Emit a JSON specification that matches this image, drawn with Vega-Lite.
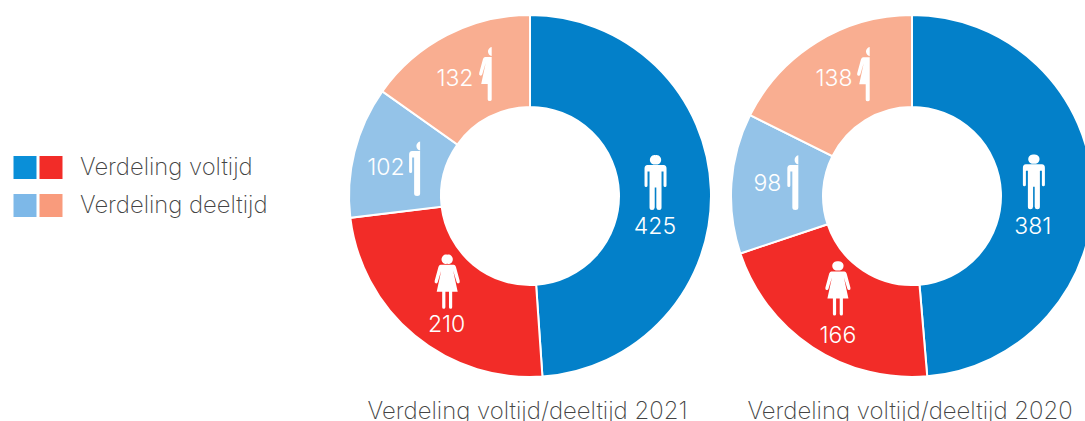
{
"$schema":"https://vega.github.io/schema/vega-lite/v6.json",
"padding":{"left":0,"top":11,"right":0,"bottom":0},
"spacing":22,
"bounds":"flush",
"background":"white",
"resolve":{"scale":{"color":"independent"}},
"config":{"view":{"stroke":null},"text":{"font":"Inter","fontSize":23,"fontWeight":300,"color":"white"},"point":{"filled":true,"size":4,"opacity":1,"strokeWidth":0,"color":"white"}},
"datasets":{
"verdeling":[
{"jaar":2021,"categorie":"Man voltijd","volgorde":1,"aantal":425},
{"jaar":2021,"categorie":"Vrouw voltijd","volgorde":2,"aantal":210},
{"jaar":2021,"categorie":"Man deeltijd","volgorde":3,"aantal":102},
{"jaar":2021,"categorie":"Vrouw deeltijd","volgorde":4,"aantal":132},
{"jaar":2020,"categorie":"Man voltijd","volgorde":1,"aantal":381},
{"jaar":2020,"categorie":"Vrouw voltijd","volgorde":2,"aantal":166},
{"jaar":2020,"categorie":"Man deeltijd","volgorde":3,"aantal":98},
{"jaar":2020,"categorie":"Vrouw deeltijd","volgorde":4,"aantal":138}
],
"legenda":[
{"geslacht":"Man","label":"Verdeling voltijd","categorie":"Man voltijd"},
{"geslacht":"Vrouw","label":"Verdeling voltijd","categorie":"Vrouw voltijd"},
{"geslacht":"Man","label":"Verdeling deeltijd","categorie":"Man deeltijd"},
{"geslacht":"Vrouw","label":"Verdeling deeltijd","categorie":"Vrouw deeltijd"}
]},
"hconcat":[
{"width":328,"height":360,"data":{"name":"legenda"},
"layer":[
{"mark":{"type":"point","shape":"square","filled":true,"size":529,"opacity":1,"strokeWidth":0},
"encoding":{
"x":{"field":"geslacht","type":"nominal","axis":null,"scale":{"type":"point","padding":0,"domain":["Man","Vrouw"],"range":[25,51]}},
"y":{"field":"label","type":"nominal","axis":null,"scale":{"type":"point","padding":0,"domain":["Verdeling voltijd","Verdeling deeltijd"],"range":[151.5,189.5]}},
"color":{"field":"categorie","type":"nominal","legend":null,"scale":{"domain":["Man voltijd","Vrouw voltijd","Man deeltijd","Vrouw deeltijd"],"range":["#0A8FD8","#F22C28","#7DB8E8","#F99B7C"]}}}},
{"transform":[{"filter":"datum.geslacht==='Man'"}],
"mark":{"type":"text","align":"left","dx":55,"font":"Inter","fontWeight":200,"fontSize":23.8,"color":"#444444"},
"encoding":{
"x":{"field":"geslacht","type":"nominal","axis":null,"scale":{"type":"point","padding":0,"domain":["Man","Vrouw"],"range":[25,51]}},
"y":{"field":"label","type":"nominal","axis":null,"scale":{"type":"point","padding":0,"domain":["Verdeling voltijd","Verdeling deeltijd"],"range":[151.5,189.5]}},
"text":{"field":"label"}}}
]},
{"width":360,"height":360,"data":{"name":"verdeling"},
"title":{"text":"Verdeling voltijd/deeltijd 2021","orient":"bottom","anchor":"middle","font":"Inter","fontWeight":200,"fontSize":23.9,"color":"#444444","offset":19,"dx":-2.5},
"transform":[{"filter":"datum.jaar===2021"},
{"joinaggregate":[{"op":"sum","field":"aantal","as":"totaal"}]},
{"window":[{"op":"sum","field":"aantal","as":"cum"}],"sort":[{"field":"volgorde"}]},
{"calculate":"(datum.cum-datum.aantal/2)/datum.totaal*2*PI","as":"mid"},
{"calculate":"datum.volgorde<=2?125:135","as":"r"},
{"calculate":"sin(datum.mid)*datum.r","as":"px"},
{"calculate":"cos(datum.mid)*datum.r","as":"py"}],
"encoding":{
"x":{"field":"px","type":"quantitative","axis":null,"scale":{"domain":[-180,180]}},
"y":{"field":"py","type":"quantitative","axis":null,"scale":{"domain":[-180,180]}}},
"layer":[
{"mark":{"type":"arc","outerRadius":181,"innerRadius":89,"stroke":"white","strokeWidth":2},
"encoding":{
"x":null,"y":null,
"theta":{"field":"aantal","type":"quantitative","stack":true},
"order":{"field":"volgorde"},
"color":{"field":"categorie","type":"nominal","legend":null,"scale":{"domain":["Man voltijd","Vrouw voltijd","Man deeltijd","Vrouw deeltijd"],"range":["#0380C9","#F22C28","#94C3E8","#F9AE91"]}}}},
{"transform":[{"filter":"datum.categorie==='Man voltijd'"}],"mark":{"type":"point","xOffset":0.6,"yOffset":-9.3},
"encoding":{"shape":{"field":"categorie","type":"nominal","legend":null,"scale":{"domain":["Man voltijd","Vrouw voltijd","Man deeltijd","Vrouw deeltijd"],"range":[
"M-8,-17.5H8Q11,-17.5 11,-14V3Q11,4.5 9.5,4.5Q8,4.5 8,3V-11H6V25Q6,27.5 3.5,27.5Q1,27.5 0.8,25V5H-0.8V25Q-1,27.5 -3.5,27.5Q-6,27.5 -6,25V-11H-8V3Q-8,4.5 -9.5,4.5Q-11,4.5 -11,3V-14Q-11,-17.5 -8,-17.5ZM0,-27.2A4.7,4.7 0 1 1 0,-18A4.7,4.7 0 1 1 0,-27.2Z",
"M-6.5,-17H6.5Q8,-17 8.7,-15L12.5,-1Q13,1 11.5,1.5Q10,2 9.5,0.5L6,-11L10.5,10H5V25.5Q5,27 3.5,27Q1.8,27 1.8,25.5V10H-1.8V25.5Q-1.8,27 -3.5,27Q-5,27 -5,25.5V10H-10.5L-6,-11L-9.5,0.5Q-10,2 -11.5,1.5Q-13,1 -12.5,-1L-8.7,-15Q-8,-17 -6.5,-17ZM0,-27.2A4.7,4.7 0 1 1 0,-18A4.7,4.7 0 1 1 0,-27.2Z",
"M0,-17.5H-8Q-11,-17.5 -11,-14V3Q-11,4.5 -9.5,4.5Q-8,4.5 -8,3V-11H-6V25Q-6,27.5 -3,27.5Q0,27.5 0,25ZM0,-27.2A4.7,4.7 0 0 0 0,-18Z",
"M0,-17H-6.5Q-8,-17 -8.7,-15L-12.5,-1Q-13,1 -11.5,1.5Q-10,2 -9.5,0.5L-6,-11L-10.5,10H-4V25.5Q-4,27 -2,27Q0,27 0,25.5ZM0,-27.2A4.7,4.7 0 0 0 0,-18Z"]}}}},
{"transform":[{"filter":"datum.categorie==='Vrouw voltijd'"}],"mark":{"type":"point","xOffset":-3.2,"yOffset":-10.5},
"encoding":{"shape":{"field":"categorie","type":"nominal","legend":null}}},
{"transform":[{"filter":"datum.categorie==='Man deeltijd'"}],"mark":{"type":"point","xOffset":21,"yOffset":5.7},
"encoding":{"shape":{"field":"categorie","type":"nominal","legend":null}}},
{"transform":[{"filter":"datum.categorie==='Vrouw deeltijd'"}],"mark":{"type":"point","xOffset":23.7,"yOffset":-2},
"encoding":{"shape":{"field":"categorie","type":"nominal","legend":null}}},
{"transform":[{"filter":"datum.categorie==='Man voltijd'"}],"mark":{"type":"text","dx":0,"dy":35},"encoding":{"text":{"field":"aantal","type":"quantitative"}}},
{"transform":[{"filter":"datum.categorie==='Vrouw voltijd'"}],"mark":{"type":"text","dx":-3.8,"dy":33},"encoding":{"text":{"field":"aantal","type":"quantitative"}}},
{"transform":[{"filter":"datum.categorie==='Man deeltijd'"}],"mark":{"type":"text","align":"right","dx":5.5,"dy":5},"encoding":{"text":{"field":"aantal","type":"quantitative"}}},
{"transform":[{"filter":"datum.categorie==='Vrouw deeltijd'"}],"mark":{"type":"text","align":"right","dx":5.5,"dy":3},"encoding":{"text":{"field":"aantal","type":"quantitative"}}}
]},
{"width":360,"height":360,"data":{"name":"verdeling"},
"title":{"text":"Verdeling voltijd/deeltijd 2020","orient":"bottom","anchor":"middle","font":"Inter","fontWeight":200,"fontSize":23.9,"color":"#444444","offset":19,"dx":-2},
"transform":[{"filter":"datum.jaar===2020"},
{"joinaggregate":[{"op":"sum","field":"aantal","as":"totaal"}]},
{"window":[{"op":"sum","field":"aantal","as":"cum"}],"sort":[{"field":"volgorde"}]},
{"calculate":"(datum.cum-datum.aantal/2)/datum.totaal*2*PI","as":"mid"},
{"calculate":"datum.volgorde<=2?125:135","as":"r"},
{"calculate":"sin(datum.mid)*datum.r","as":"px"},
{"calculate":"cos(datum.mid)*datum.r","as":"py"}],
"encoding":{
"x":{"field":"px","type":"quantitative","axis":null,"scale":{"domain":[-180,180]}},
"y":{"field":"py","type":"quantitative","axis":null,"scale":{"domain":[-180,180]}}},
"layer":[
{"mark":{"type":"arc","outerRadius":181,"innerRadius":89,"stroke":"white","strokeWidth":2},
"encoding":{
"x":null,"y":null,
"theta":{"field":"aantal","type":"quantitative","stack":true},
"order":{"field":"volgorde"},
"color":{"field":"categorie","type":"nominal","legend":null,"scale":{"domain":["Man voltijd","Vrouw voltijd","Man deeltijd","Vrouw deeltijd"],"range":["#0380C9","#F22C28","#94C3E8","#F9AE91"]}}}},
{"transform":[{"filter":"datum.categorie==='Man voltijd'"}],"mark":{"type":"point","xOffset":-3,"yOffset":-9},
"encoding":{"shape":{"field":"categorie","type":"nominal","legend":null,"scale":{"domain":["Man voltijd","Vrouw voltijd","Man deeltijd","Vrouw deeltijd"],"range":[
"M-8,-17.5H8Q11,-17.5 11,-14V3Q11,4.5 9.5,4.5Q8,4.5 8,3V-11H6V25Q6,27.5 3.5,27.5Q1,27.5 0.8,25V5H-0.8V25Q-1,27.5 -3.5,27.5Q-6,27.5 -6,25V-11H-8V3Q-8,4.5 -9.5,4.5Q-11,4.5 -11,3V-14Q-11,-17.5 -8,-17.5ZM0,-27.2A4.7,4.7 0 1 1 0,-18A4.7,4.7 0 1 1 0,-27.2Z",
"M-6.5,-17H6.5Q8,-17 8.7,-15L12.5,-1Q13,1 11.5,1.5Q10,2 9.5,0.5L6,-11L10.5,10H5V25.5Q5,27 3.5,27Q1.8,27 1.8,25.5V10H-1.8V25.5Q-1.8,27 -3.5,27Q-5,27 -5,25.5V10H-10.5L-6,-11L-9.5,0.5Q-10,2 -11.5,1.5Q-13,1 -12.5,-1L-8.7,-15Q-8,-17 -6.5,-17ZM0,-27.2A4.7,4.7 0 1 1 0,-18A4.7,4.7 0 1 1 0,-27.2Z",
"M0,-17.5H-8Q-11,-17.5 -11,-14V3Q-11,4.5 -9.5,4.5Q-8,4.5 -8,3V-11H-6V25Q-6,27.5 -3,27.5Q0,27.5 0,25ZM0,-27.2A4.7,4.7 0 0 0 0,-18Z",
"M0,-17H-6.5Q-8,-17 -8.7,-15L-12.5,-1Q-13,1 -11.5,1.5Q-10,2 -9.5,0.5L-6,-11L-10.5,10H-4V25.5Q-4,27 -2,27Q0,27 0,25.5ZM0,-27.2A4.7,4.7 0 0 0 0,-18Z"]}}}},
{"transform":[{"filter":"datum.categorie==='Vrouw voltijd'"}],"mark":{"type":"point","xOffset":-5.4,"yOffset":-12},
"encoding":{"shape":{"field":"categorie","type":"nominal","legend":null}}},
{"transform":[{"filter":"datum.categorie==='Man deeltijd'"}],"mark":{"type":"point","xOffset":21,"yOffset":-4},
"encoding":{"shape":{"field":"categorie","type":"nominal","legend":null}}},
{"transform":[{"filter":"datum.categorie==='Vrouw deeltijd'"}],"mark":{"type":"point","xOffset":28.7,"yOffset":-7},
"encoding":{"shape":{"field":"categorie","type":"nominal","legend":null}}},
{"transform":[{"filter":"datum.categorie==='Man voltijd'"}],"mark":{"type":"text","dx":-4,"dy":36},"encoding":{"text":{"field":"aantal","type":"quantitative"}}},
{"transform":[{"filter":"datum.categorie==='Vrouw voltijd'"}],"mark":{"type":"text","dx":-5.4,"dy":35.5},"encoding":{"text":{"field":"aantal","type":"quantitative"}}},
{"transform":[{"filter":"datum.categorie==='Man deeltijd'"}],"mark":{"type":"text","align":"right","dx":4,"dy":-2.7},"encoding":{"text":{"field":"aantal","type":"quantitative"}}},
{"transform":[{"filter":"datum.categorie==='Vrouw deeltijd'"}],"mark":{"type":"text","align":"right","dx":11.5,"dy":-2.3},"encoding":{"text":{"field":"aantal","type":"quantitative"}}}
]}
]}
